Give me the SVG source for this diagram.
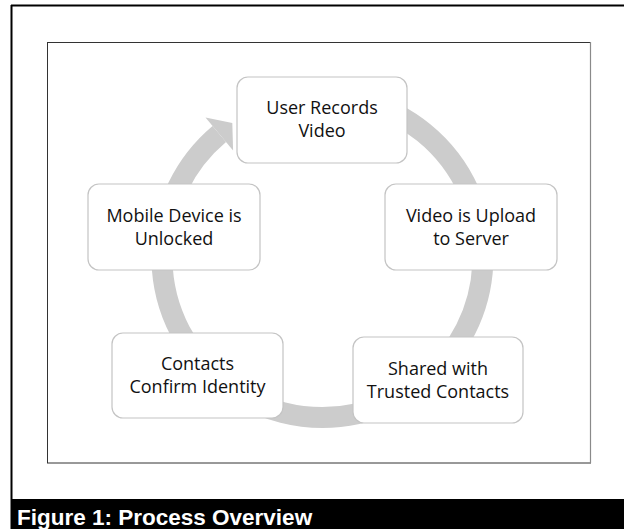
<svg xmlns="http://www.w3.org/2000/svg" width="624" height="529" viewBox="0 0 624 529">
  <style>
    .node rect { fill: #ffffff; stroke: #c4c4c4; stroke-width: 1.2; }
    .node text { font-family: "Open Sans", "Noto Sans", "Liberation Sans", sans-serif; font-size: 18px; fill: #111111; text-anchor: middle; }
    .ring { fill: none; stroke: #cccccc; stroke-width: 21; }
    .head { fill: #cccccc; }
    .caption { font-family: "Liberation Sans", Arial, sans-serif; font-weight: bold; font-size: 22.5px; fill: #ffffff; }
  </style>
  <rect x="0" y="0" width="624" height="529" fill="#ffffff"/>
  <!-- outer frame -->
  <g id="frame">
    <line x1="11" y1="5.5" x2="624" y2="5.5" stroke="#000" stroke-width="2"/>
    <line x1="11.5" y1="5" x2="11.5" y2="529" stroke="#000" stroke-width="2"/>
    <rect x="11" y="499" width="613" height="30" fill="#000"/>
    <text class="caption" x="17" y="525">Figure 1: Process Overview</text>
  </g>
  <!-- inner box -->
  <g id="panel">
    <rect x="47.5" y="42.5" width="543" height="420.5" fill="#fff" stroke="#333" stroke-width="1"/>
    <line x1="590.5" y1="42" x2="590.5" y2="463" stroke="#8a8a8a" stroke-width="1.2"/>
  </g>
  <!-- connectors: continuous cycle ring -->
  <g id="connectors">
    <path class="ring" d="M 364.0 102.0 A 160.5 160.5 0 1 1 219.3 134.05"/>
    <polygon class="head" points="205.5,117.6 232.3,123.1 233.1,150.5"/>
  </g>
  <g id="n1" class="node">
    <rect x="237" y="77" width="170" height="86" rx="11"/>
    <text x="322" y="114">User Records</text>
    <text x="322" y="137">Video</text>
  </g>
  <g id="n2" class="node">
    <rect x="385" y="184" width="172" height="86" rx="11"/>
    <text x="471" y="222">Video is Upload</text>
    <text x="471" y="245">to Server</text>
  </g>
  <g id="n3" class="node">
    <rect x="353" y="337" width="170" height="86" rx="11"/>
    <text x="438" y="375">Shared with</text>
    <text x="438" y="398">Trusted Contacts</text>
  </g>
  <g id="n4" class="node">
    <rect x="112" y="333" width="171" height="85" rx="11"/>
    <text x="197.5" y="370">Contacts</text>
    <text x="197.5" y="393">Confirm Identity</text>
  </g>
  <g id="n5" class="node">
    <rect x="88" y="184" width="172" height="86" rx="11"/>
    <text x="174" y="222">Mobile Device is</text>
    <text x="174" y="245">Unlocked</text>
  </g>
</svg>
